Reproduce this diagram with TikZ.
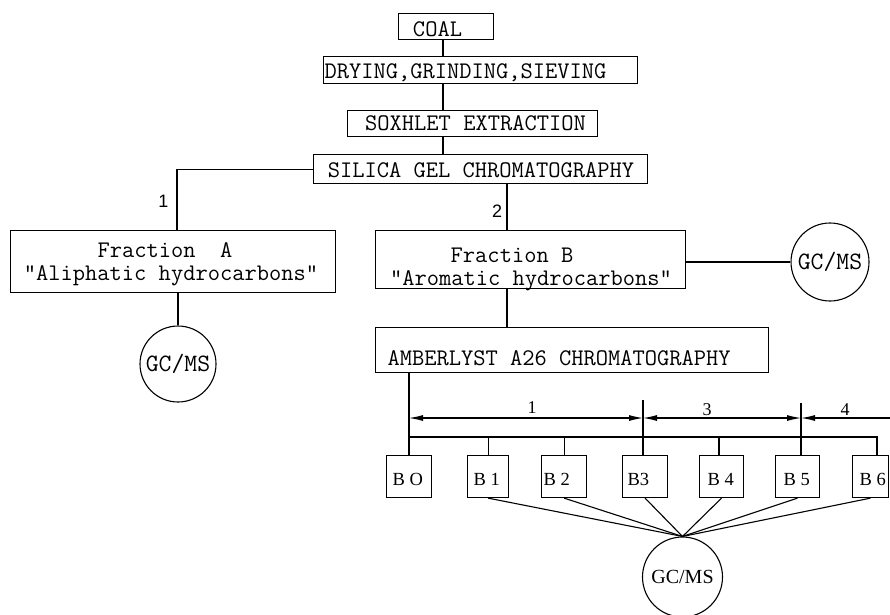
\documentclass[tikz,border=0pt]{standalone}
\usepackage{fontspec}
\setmainfont{Liberation Serif}
\newfontfamily\sansf{Liberation Sans}
\usetikzlibrary{arrows.meta}
\begin{document}
\begin{tikzpicture}[x=1pt,y=-1pt,line width=1.1pt,
  box/.style={draw,rectangle,inner sep=0pt,anchor=north west},
  mono/.style={inner sep=0pt,font=\fontsize{23.8}{26}\selectfont\ttfamily},
  circmono/.style={draw,circle,inner sep=0pt,font=\fontsize{25}{26}\selectfont\ttfamily},
  circser/.style={draw,circle,inner sep=0pt,font=\fontsize{20}{24}\selectfont},
  blab/.style={inner sep=0pt,anchor=base west,font=\fontsize{18.5}{20}\selectfont},
  dlab/.style={inner sep=0pt,anchor=base,font=\fontsize{18}{20}\selectfont},
  slab/.style={inner sep=0pt,anchor=base,font=\fontsize{18}{20}\selectfont\sansf},
  lefttip/.style={{Latex[length=14pt,width=6pt]}-},
  dim/.style={{Latex[length=14pt,width=6pt]}-{Latex[length=14pt,width=6pt]}}]
\useasboundingbox (0,0) rectangle (890,614);

% boxes
\node[box,minimum width=95,minimum height=26] (coal) at (398,13) {};
\node[box,minimum width=314,minimum height=27] (dry) at (323,56) {};
\node[box,minimum width=250,minimum height=26] (sox) at (347,110) {};
\node[box,minimum width=334,minimum height=29] (sil) at (313,154) {};
\node[box,minimum width=325,minimum height=62] (fa) at (10,230) {};
\node[box,minimum width=310,minimum height=58] (fb) at (375,230) {};
\node[box,minimum width=393,minimum height=45] (amb) at (375,327) {};

% box texts
\node[mono,anchor=base] at (437.5,36) {COAL};
\node[mono,anchor=base west] at (324,78) {DRYING,GRINDING,SIEVING};
\node[mono,anchor=base] at (475.5,130) {SOXHLET EXTRACTION};
\node[mono,anchor=base] at (481,177) {SILICA GEL CHROMATOGRAPHY};
\node[mono,anchor=base] at (165,257) {Fraction\ \ A};
\node[mono,anchor=base] at (171,280) {"Aliphatic hydrocarbons"};
\node[mono,anchor=base] at (512,262) {Fraction B};
\node[mono,anchor=base] at (531,285) {"Aromatic hydrocarbons"};
\node[mono,anchor=base west] at (387,365) {AMBERLYST A26 CHROMATOGRAPHY};

% circles
\node[circmono,minimum size=76] (gca) at (178,364) {GC/MS};
\node[circmono,minimum size=78] (gcb) at (830,262) {GC/MS};
\node[circser,minimum size=80] (gcc) at (682.5,577) {GC/MS};

% B boxes
\node[box,minimum width=45,minimum height=42] (b0) at (386,455) {};
\node[box,minimum width=41,minimum height=42] (b1) at (467,455) {};
\node[box,minimum width=45,minimum height=42] (b2) at (541,455) {};
\node[box,minimum width=45,minimum height=42] (b3) at (622,455) {};
\node[box,minimum width=44,minimum height=42] (b4) at (699,455) {};
\node[box,minimum width=44,minimum height=42] (b5) at (775,455) {};
\node[box,minimum width=36,minimum height=42] (b6) at (852,455) {};
\node[blab] at (392,485) {B O};
\node[blab] at (473,485) {B 1};
\node[blab] at (543,485) {B 2};
\node[blab] at (627,485) {B3};
\node[blab] at (707,485) {B 4};
\node[blab] at (783,485) {B 5};
\node[blab] at (859,485) {B 6};

% coordinates
\coordinate (x443) at (443,0);
\coordinate (xa) at (177,0);
\coordinate (xb) at (507,0);
\coordinate (xgca) at (178,0);
\coordinate (xc) at (409,0);
\coordinate (x719) at (719,0);
\coordinate (d0) at (409,418);
\coordinate (t3) at (643,400);
\coordinate (t5) at (801,403);
\coordinate (dend) at (890,418);
\coordinate (bus0) at (409,437);
\coordinate (bus6) at (877,437);

% main connectors
\draw (coal.south -| x443) -- (dry.north -| x443);
\draw (dry.south -| x443) -- (sox.north -| x443);
\draw (sox.south -| x443) -- (sil.north -| x443);
\draw (sil.west) -| (fa.north -| xa);
\draw (sil.south -| xb) -- (fb.north -| xb);
\draw (fa.south -| xgca) -- (gca.north);
\draw (fb.east |- gcb.west) -- (gcb.west);
\draw (fb.south -| xb) -- (amb.north -| xb);
\draw (amb.south -| xc) -- (b0.north -| xc);

% dimension line
\draw (t3) -- (b3.north -| t3);
\draw (t5) -- (b5.north -| t5);
\draw[dim] (d0) -- (d0 -| t3);
\draw[dim] (d0 -| t3) -- (d0 -| t5);
\draw[lefttip] (d0 -| t5) -- (dend);
\node[dlab] at (532,413) {1};
\node[dlab] at (707,415) {3};
\node[dlab] at (845,415) {4};
\node[slab] at (163.5,207) {1};
\node[slab] at (497,217) {2};

% bus
\draw (bus0) -- (bus6) -- (b6.north -| bus6);
\draw (b1.north) -- (b1.north |- bus0);
\draw (b2.north) -- (b2.north |- bus0);
\draw (b4.north -| x719) -- (bus0 -| x719);

% fan to GC/MS
\foreach \b in {b1,b2,b3,b4,b5,b6}
  \draw (\b.south) -- (gcc.north);
\end{tikzpicture}
\end{document}
